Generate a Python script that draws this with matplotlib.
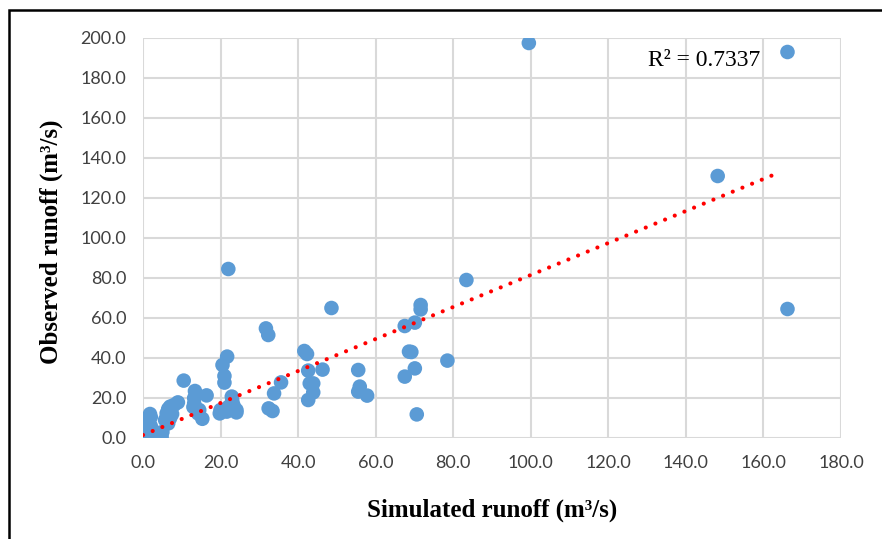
import matplotlib
matplotlib.use("Agg")
import matplotlib.pyplot as plt
from matplotlib.patches import Rectangle
import numpy as np

# simulated vs observed runoff (m3/s)
sim = [99.5, 166.2, 148.2, 166.2, 83.4, 22.0, 48.6,
       71.6, 71.6, 70.1, 67.5, 68.6, 69.2, 78.5, 70.1, 67.5, 70.6,
       55.5, 55.9, 55.5, 57.8,
       41.6, 42.3, 42.6, 46.3, 43.0, 43.9, 43.9, 42.6,
       35.6, 33.8, 31.7, 32.3, 32.4, 33.4,
       21.7, 20.5, 21.0, 21.0,
       10.5, 13.4, 16.4, 13.2, 13.2, 13.0, 14.2, 15.3, 14.5,
       22.9, 23.0, 23.3, 24.1, 24.1, 19.8, 21.6, 20.0, 22.0,
       9.0, 8.0, 7.0, 6.5, 6.1, 7.5, 5.7, 6.5, 7.0,
       1.8, 2.0, 1.4, 1.0, 0.5, 0.1, 0.0, 3.5, 4.8, 2.5, 1.5, 4.0, 5.0,
       3.0, 0.5, 2.0, 1.5]
obs = [197.5, 193.0, 131.0, 64.5, 79.0, 84.5, 65.0,
       66.5, 64.3, 57.7, 56.0, 43.2, 43.0, 38.7, 34.8, 30.7, 11.8,
       34.0, 25.7, 23.2, 21.2,
       43.5, 42.0, 33.7, 34.2, 27.3, 27.3, 22.8, 19.0,
       27.8, 22.3, 54.8, 51.5, 14.8, 13.5,
       40.7, 36.5, 31.0, 27.7,
       28.7, 23.5, 21.3, 20.0, 17.3, 15.5, 12.3, 9.6, 14.0,
       20.7, 19.0, 16.5, 14.0, 12.8, 12.3, 13.2, 14.0, 15.5,
       17.8, 16.5, 15.7, 14.5, 12.3, 12.0, 9.0, 7.3, 10.0,
       12.0, 10.5, 9.0, 5.7, 3.2, 1.5, 0.0, 0.7, 0.5, 1.0, 2.0, 2.5, 3.0,
       0.2, 0.5, 6.0, 7.5]

# linear trendline as shown in the chart
trend_slope = 0.80
trend_intercept = 1.5
trend_range = [0.0, 164.0]
r2_text = "R² = 0.7337"

fig = plt.figure(figsize=(8.82, 5.39), dpi=100)
ax = fig.add_axes([143 / 882, 1 - 438 / 539, 698 / 882, 400 / 539])

ax.scatter(sim, obs, s=110, color="#5B9BD5", edgecolors="none", zorder=3)

tx = np.array(trend_range)
ax.plot(tx, trend_slope * tx + trend_intercept, color="#FF0000", lw=3.0,
        linestyle=(0, (0.01, 2.5)), dash_capstyle="round", zorder=4)

ax.set_xlim(0, 180)
ax.set_ylim(0, 200)
ax.set_xticks(np.arange(0, 181, 20))
ax.set_yticks(np.arange(0, 201, 20))
ax.set_xticklabels(["%.1f" % v for v in np.arange(0, 181, 20)])
ax.set_yticklabels(["%.1f" % v for v in np.arange(0, 201, 20)])
ax.grid(True, color="#D9D9D9", lw=1.5, zorder=0)
ax.set_axisbelow(True)
for s in ax.spines.values():
    s.set_visible(False)
ax.tick_params(length=0, pad=12, labelsize=13, labelcolor="#404040")
for lab in ax.get_xticklabels() + ax.get_yticklabels():
    lab.set_family("Lato")

ax.set_xlabel("Simulated runoff (m³/s)", family="Liberation Serif",
              fontweight="bold", fontsize=18, labelpad=20)
ax.set_ylabel("Observed runoff (m³/s)", family="Liberation Serif",
              fontweight="bold", fontsize=18, labelpad=14)
ax.yaxis.set_label_coords(-0.115, 0.49)

ax.text(0.884, 0.945, r2_text, transform=ax.transAxes, ha="right", va="center",
        family="Liberation Serif", fontsize=17)

# partial frame around the image
fig.patches.append(Rectangle((9 / 882, -0.1), 1.2, 1 - 10 / 539 + 0.1,
                             transform=fig.transFigure, fill=False,
                             edgecolor="black", lw=1.8))

fig.savefig("out.png", dpi=100)
